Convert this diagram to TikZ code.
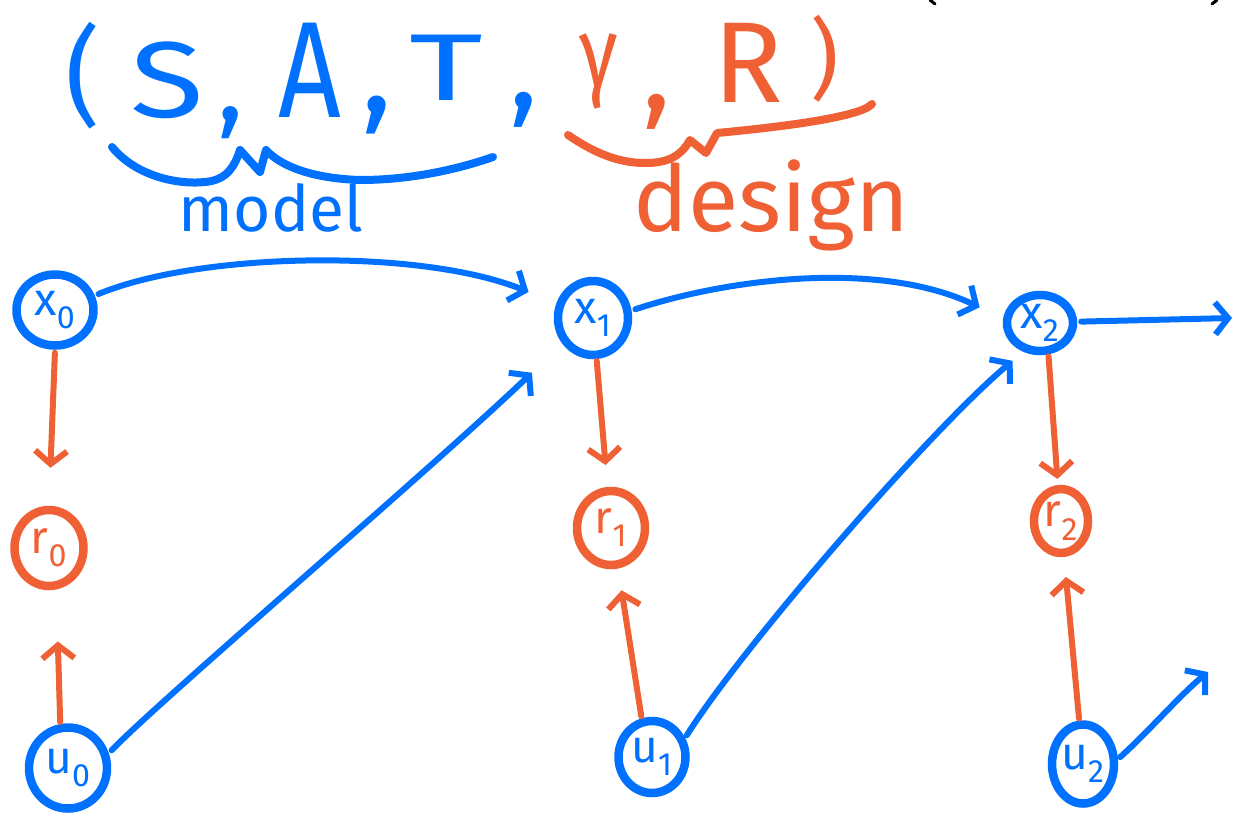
\documentclass[tikz,border=0pt]{standalone}
\usepackage{fontspec}
\setmainfont{Fira Sans}
\usepackage{graphicx}
\usetikzlibrary{arrows.meta,shapes.geometric}
\definecolor{hblue}{RGB}{0,112,255}
\definecolor{horange}{RGB}{240,96,53}
\begin{document}
\begin{tikzpicture}[x=1pt,y=-1pt,line cap=round,line join=round,
  hb/.style={draw=hblue,line width=8.5pt,ellipse,inner sep=0pt,text=hblue,font=\fontsize{46}{46}\selectfont},
  ho/.style={hb,draw=horange,text=horange},
  barrow/.style={draw=hblue,line width=6pt,-{Straight Barb[length=13pt,width=32pt]}},
  oarrow/.style={barrow,draw=horange},
  bt/.style={text=hblue,inner sep=0pt},
  ot/.style={text=horange,inner sep=0pt},
  bline/.style={draw=hblue,line width=8pt},
  oline/.style={draw=horange,line width=8pt},
  blackstroke/.style={draw=black,line width=3pt}]
\useasboundingbox (0,0) rectangle (1234,815);
% nodes
\node[hb,minimum width=77pt,minimum height=71pt] (x0) at (55,310) {x\textsubscript{0}};
\node[hb,minimum width=70pt,minimum height=74pt] (x1) at (593,318) {x\textsubscript{1}};
\node[hb,minimum width=66pt,minimum height=56pt] (x2) at (1040,323) {x\textsubscript{2}};
\node[ho,minimum width=69pt,minimum height=76pt] (r0) at (49,548) {r\textsubscript{0}};
\node[ho,minimum width=68pt,minimum height=74pt] (r1) at (611,528) {r\textsubscript{1}};
\node[ho,minimum width=54pt,minimum height=64pt] (r2) at (1061,521) {r\textsubscript{2}};
\node[hb,minimum width=78pt,minimum height=81pt] (u0) at (68,768) {u\textsubscript{0}};
\node[hb,minimum width=67pt,minimum height=72pt] (u1) at (652,757) {u\textsubscript{1}};
\node[hb,minimum width=62pt,minimum height=79pt] (u2) at (1083,764) {u\textsubscript{2}};
% blue transitions
\draw[barrow,shorten <=4pt,shorten >=30pt] (x0.20) .. controls (200,252) and (420,248) .. (x1.158);
\draw[barrow,shorten <=4pt,shorten >=26pt] (x1.11) .. controls (730,278) and (880,260) .. (x2.173);
\coordinate (e2) at (1232,318);
\draw[barrow,shorten <=4pt] (x2.2) -- (e2);
\draw[barrow,shorten <=4pt,shorten >=42pt] (u0.20) .. controls (160,700) and (430,470) .. (x1.220);
\draw[barrow,shorten <=3pt,shorten >=14pt] (u1.30) .. controls (740,650) and (930,430) .. (x2.240);
\coordinate (e3) at (1208,672);
\draw[barrow,shorten <=3pt] (u2.8) .. controls (1150,730) and (1180,695) .. (e3);
% orange reward arrows
\draw[oarrow,shorten <=3pt,shorten >=38pt] (x0.south) -- (r0.north);
\draw[oarrow,shorten <=2pt,shorten >=22pt] (x1.-85) -- (r1.95);
\draw[oarrow,shorten <=2pt,shorten >=6pt] (x2.-75) -- (r2.95);
\draw[oarrow,shorten <=2pt,shorten >=52pt] (u0.100) -- (r0.-80);
\draw[oarrow,shorten <=2pt,shorten >=22pt] (u1.105) -- (r1.-80);
\draw[oarrow,shorten <=2pt,shorten >=20pt] (u2.95) -- (r2.-85);
% title
\node[bt,font=\fontsize{108}{108}\selectfont] (lp) at (83,76) {(};
\node[bt,font=\fontsize{108}{108}\selectfont] (tS) at (167,80) {\scalebox{1.25}[1]{S}};
\node[bt,font=\fontsize{110}{110}\selectfont] (c1) at (231,123) {,};
\node[bt,font=\fontsize{137}{137}\selectfont] (tA) at (310,70) {\scalebox{0.8}[1]{A}};
\node[bt,font=\fontsize{130}{130}\selectfont] (c2) at (377,115) {,};
\node[bt,font=\fontsize{95}{95}\selectfont] (tT) at (446,68) {\scalebox{1.5}[1]{T}};
\node[bt,font=\fontsize{120}{120}\selectfont] (c3) at (524,110) {,};
\node[ot,font=\fontsize{100}{100}\selectfont] (tg) at (599,71) {\scalebox{0.8}[1]{γ}};
\node[ot,font=\fontsize{120}{120}\selectfont] (c4) at (657,112) {,};
\node[ot,font=\fontsize{115}{115}\selectfont] (tR) at (748,63) {R};
\node[ot,font=\fontsize{88}{88}\selectfont] (rp) at (825,59) {)};
% braces
\draw[bline] (112,147) .. controls (135,175) and (175,185) .. (205,182) .. controls (228,180) and (235,165) .. (240,150) -- (260,172) -- (266,150) .. controls (275,160) and (300,178) .. (360,180) .. controls (420,180) and (470,165) .. (493,157);
\draw[oline] (568,135) .. controls (590,150) and (615,163) .. (645,163) .. controls (665,163) and (680,158) .. (690,140) -- (706,153) -- (717,133) .. controls (770,128) and (860,118) .. (872,104);
\node[bt,font=\fontsize{64}{64}\selectfont] (model) at (271,208) {model};
\node[ot,font=\fontsize{92}{92}\selectfont] (design) at (771,205) {design};
% cut-off marks at top right
\draw[blackstroke] (930,0) -- (935,4);
\draw[blackstroke] (1217,0) -- (1212,4);
\end{tikzpicture}
\end{document}
